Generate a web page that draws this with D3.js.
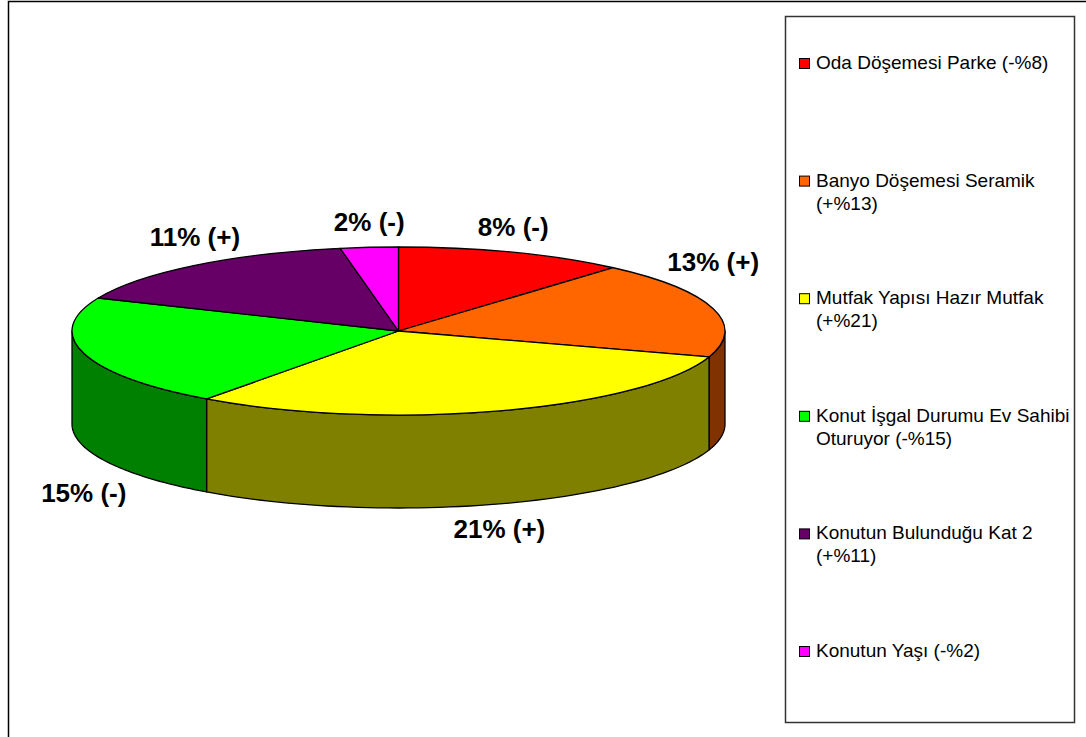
<!DOCTYPE html>
<html>
<head>
<meta charset="utf-8">
<script src="https://cdn.jsdelivr.net/npm/d3@7"></script>
<style>
  html, body { margin: 0; padding: 0; background: #fff; }
  svg { display: block; }
  text { font-family: "Liberation Sans", Arial, sans-serif; }
</style>
</head>
<body>
<svg id="chart" width="1086" height="737"></svg>
<script>
// ---- data ----
const categories = [
  "Oda Döşemesi Parke (-%8)",
  "Banyo Döşemesi Seramik\n(+%13)",
  "Mutfak Yapısı Hazır Mutfak\n(+%21)",
  "Konut İşgal Durumu Ev Sahibi\nOturuyor (-%15)",
  "Konutun Bulunduğu Kat 2\n(+%11)",
  "Konutun Yaşı (-%2)"
];
const values = [8, 13, 21, 15, 11, 2];
const signs = ["-", "+", "+", "-", "+", "-"];
const topColors  = ["#FF0000", "#FF6600", "#FFFF00", "#00FF00", "#660066", "#FF00FF"];
const sideColors = ["#800000", "#803300", "#808000", "#008000", "#330033", "#800080"];

// ---- layout ----
const svg = d3.select("#chart");
const W = 1086, H = 737;
const cx = 398.5, cy = 331, rx = 326.5, ry = 84, depth = 93;

// outer frame
svg.append("rect").attr("x", 8.5).attr("y", 1.5).attr("width", W + 20).attr("height", H + 20)
  .attr("fill", "#fff").attr("stroke", "#000").attr("stroke-width", 1.5);

const pie = d3.pie().sort(null).value(d => d).startAngle(0).endAngle(2 * Math.PI);
const arcs = pie(values);

const px = a => cx + rx * Math.sin(a);
const py = a => cy - ry * Math.cos(a);

const g = svg.append("g");

// side walls (front half: angles PI/2 .. 3PI/2)
arcs.forEach((d, i) => {
  const lo = Math.max(d.startAngle, Math.PI / 2);
  const hi = Math.min(d.endAngle, 3 * Math.PI / 2);
  if (hi <= lo) return;
  const n = 60;
  const angs = d3.range(n + 1).map(k => lo + (hi - lo) * k / n);
  let p = "M" + angs.map(a => px(a).toFixed(2) + "," + py(a).toFixed(2)).join("L");
  p += "L" + angs.slice().reverse().map(a => px(a).toFixed(2) + "," + (py(a) + depth).toFixed(2)).join("L");
  p += "Z";
  g.append("path").attr("d", p).attr("fill", sideColors[i])
    .attr("stroke", "#000").attr("stroke-width", 1.3).attr("stroke-linejoin", "round");
});

// top surfaces
arcs.forEach((d, i) => {
  const a0 = d.startAngle, a1 = d.endAngle;
  const large = (a1 - a0) > Math.PI ? 1 : 0;
  const p = `M${cx},${cy}L${px(a0)},${py(a0)}A${rx},${ry} 0 ${large} 1 ${px(a1)},${py(a1)}Z`;
  g.append("path").attr("d", p).attr("fill", topColors[i])
    .attr("stroke", "#000").attr("stroke-width", 1.3).attr("stroke-linejoin", "round");
});

// data labels
arcs.forEach((d, i) => {
  const m = (d.startAngle + d.endAngle) / 2;
  const s = Math.sin(m), c = Math.cos(m);
  const off = 25 + 25 * Math.pow(s, 4);
  let x = px(m);
  let y = py(m);
  if (c < 0) y += depth + off; else y -= off;
  svg.append("text")
    .attr("x", x).attr("y", y + 9)
    .attr("text-anchor", "middle")
    .attr("font-size", 26).attr("font-weight", "bold").attr("fill", "#000")
    .text(`${values[i]}% (${signs[i]})`);
});

// legend
const lg = svg.append("g");
lg.append("rect").attr("x", 785.5).attr("y", 16.5).attr("width", 289).attr("height", 706)
  .attr("fill", "#fff").attr("stroke", "#333").attr("stroke-width", 1.5);

categories.forEach((name, i) => {
  const base = 69 + i * 117.6;
  lg.append("rect").attr("x", 799.5).attr("y", base - 10.5).attr("width", 10).attr("height", 10)
    .attr("fill", topColors[i]).attr("stroke", "#000").attr("stroke-width", 1);
  const t = lg.append("text").attr("x", 816).attr("y", base).attr("font-size", 19).attr("fill", "#000");
  name.split("\n").forEach((line, j) => {
    t.append("tspan").attr("x", 816).attr("y", base + j * 23).text(line);
  });
});
</script>
</body>
</html>
